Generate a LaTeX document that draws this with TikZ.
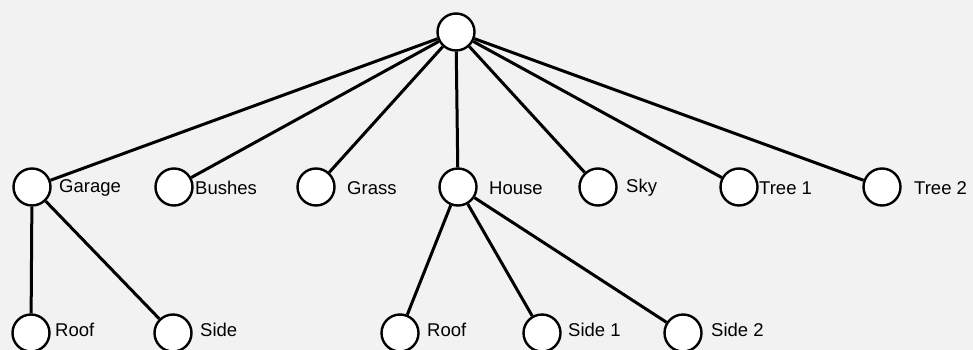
\documentclass[tikz,border=0pt]{standalone}
\usepackage{fontspec}
\setmainfont{Liberation Sans}
\begin{document}
\begin{tikzpicture}[x=1pt,y=-1pt,
  vert/.style={circle,draw=black,line width=2.4pt,fill=white,minimum size=37pt,inner sep=0pt},
  lbl/.style={anchor=west,font=\fontsize{18.5}{18.5}\selectfont,inner sep=0pt,text=black},
  edge/.style={line width=3pt,black}]
\useasboundingbox (0,0) rectangle (973,350);
\clip (0,0) rectangle (973,350);
\fill[black!5] (0,0) rectangle (973,350);
% root
\node[vert] (root) at (456,32) {};
% level 1
\node[vert] (garage) at (32,187) {};
\node[vert] (bushes) at (174,187) {};
\node[vert] (grass) at (316,187) {};
\node[vert] (house) at (458,187) {};
\node[vert] (sky) at (598,187) {};
\node[vert] (tree1) at (739,187) {};
\node[vert] (tree2) at (882,187) {};
% level 2
\node[vert] (groof) at (31,333) {};
\node[vert] (gside) at (173,333) {};
\node[vert] (hroof) at (400,333) {};
\node[vert] (hside1) at (542,333) {};
\node[vert] (hside2) at (683,333) {};
% labels
\node[lbl] (lgarage) at (59,188) {Garage};
\node[lbl] (lbushes) at (195,188) {Bushes};
\node[lbl] (lgrass) at (347,188) {Grass};
\node[lbl] (lhouse) at (489,188) {House};
\node[lbl] (lsky) at (626,188) {Sky};
\node[lbl] (ltree1) at (759,188) {Tree 1};
\node[lbl] (ltree2) at (914,188) {Tree 2};
\node[lbl] (lgroof) at (55,330) {Roof};
\node[lbl] (lgside) at (200,330) {Side};
\node[lbl] (lhroof) at (427,330) {Roof};
\node[lbl] (lhside1) at (568,330) {Side 1};
\node[lbl] (lhside2) at (711,330) {Side 2};
% edges
\foreach \c in {garage,bushes,grass,house,sky,tree1,tree2}
  \draw[edge] (root) -- (\c);
\draw[edge] (garage) -- (groof);
\draw[edge] (garage) -- (gside);
\draw[edge] (house) -- (hroof);
\draw[edge] (house) -- (hside1);
\draw[edge] (house) -- (hside2);
\end{tikzpicture}
\end{document}
